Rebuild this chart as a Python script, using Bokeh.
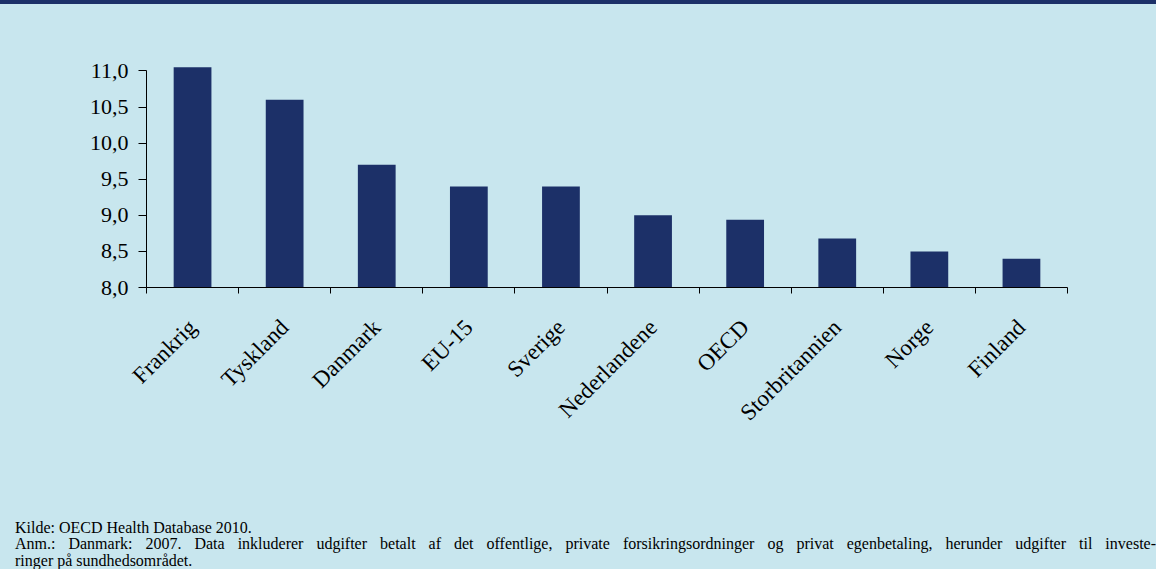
from math import pi
from bokeh.plotting import figure
from bokeh.models import (Range1d, FixedTicker, CustomJSTickFormatter, Div)
from bokeh.layouts import column
from bokeh.embed import file_html
from bokeh.resources import INLINE

# ---- data ----
categories = ["Frankrig", "Tyskland", "Danmark", "EU-15", "Sverige",
              "Nederlandene", "OECD", "Storbritannien", "Norge", "Finland"]
values = [11.05, 10.6, 9.7, 9.4, 9.4, 9.0, 8.94, 8.68, 8.5, 8.4]
y_ticks = [8.0, 8.5, 9.0, 9.5, 10.0, 10.5, 11.0]
notes = [
    "Kilde: OECD Health Database 2010.",
    "Anm.: Danmark: 2007. Data inkluderer udgifter betalt af det offentlige, "
    "private forsikringsordninger og privat egenbetaling, herunder udgifter til investe-",
    "ringer på sundhedsområdet.",
]

BG = "#c8e6ee"
NAVY = "#1c3068"
FONT = "Liberation Serif"

n = len(categories)
centers = [i + 0.5 for i in range(n)]
bounds = list(range(n + 1))

W = 1156
BAND_H = 4
CHART_H = 507
NOTES_H = 58

# ---- chart ----
p = figure(width=W, height=CHART_H, output_backend="svg", toolbar_location=None,
           x_range=Range1d(0, n), y_range=Range1d(8.0, 11.2),
           min_border_left=146, min_border_right=89,
           min_border_top=52, min_border_bottom=224,
           styles={"background-color": BG})
p.background_fill_color = None
p.border_fill_color = BG
p.outline_line_color = None
p.grid.grid_line_color = None

p.vbar(x=centers, top=values, bottom=8.0, width=0.41,
       fill_color=NAVY, line_color=None)

# y axis
ya = p.yaxis[0]
ya.ticker = FixedTicker(ticks=y_ticks)
ya.bounds = (8.0, 11.0)
ya.formatter = CustomJSTickFormatter(code="return tick.toFixed(1).replace('.', ',');")
ya.major_label_text_font = FONT
ya.major_label_text_font_size = "22px"
ya.major_label_text_color = "#000000"
ya.major_tick_out = 8
ya.major_tick_in = 0
ya.minor_tick_line_color = None
ya.axis_line_color = "#000000"
ya.major_tick_line_color = "#000000"
ya.major_label_standoff = 10

# x axis: category labels at bar centres, ticks at category boundaries
xa = p.xaxis[0]
xa.ticker = FixedTicker(ticks=centers, minor_ticks=bounds)
xa.formatter = CustomJSTickFormatter(args=dict(cats=categories),
                                     code="return cats[Math.floor(tick)];")
xa.major_label_orientation = pi / 4
xa.major_label_text_font = FONT
xa.major_label_text_font_size = "23px"
xa.major_label_text_color = "#000000"
xa.major_tick_line_color = None
xa.major_tick_out = 6
xa.major_tick_in = 0
xa.minor_tick_line_color = "#000000"
xa.minor_tick_out = 6
xa.minor_tick_in = 0
xa.axis_line_color = "#000000"
xa.major_label_standoff = 30

# ---- footnotes ----
line_style = "display:block;white-space:nowrap;"
just_style = "display:block;text-align:justify;text-align-last:justify;width:1141px;"
notes_html = (f'<div style="{line_style}">{notes[0]}</div>'
              f'<div style="{just_style}">{notes[1]}</div>'
              f'<div style="{line_style}">{notes[2]}</div>')
notes_div = Div(text=notes_html, width=W, height=NOTES_H, margin=0,
                styles={"background-color": BG, "font-family": FONT,
                        "font-size": "16px", "line-height": "16.3px",
                        "color": "#000000", "padding-left": "15px",
                        "padding-top": "9px", "box-sizing": "border-box",
                        "overflow": "hidden"})

band = Div(text="", width=W, height=BAND_H, margin=0,
           styles={"background-color": NAVY})
layout = column(band, p, notes_div, spacing=0, styles={"background-color": BG})

open("out.html", "w").write(file_html(layout, INLINE))
